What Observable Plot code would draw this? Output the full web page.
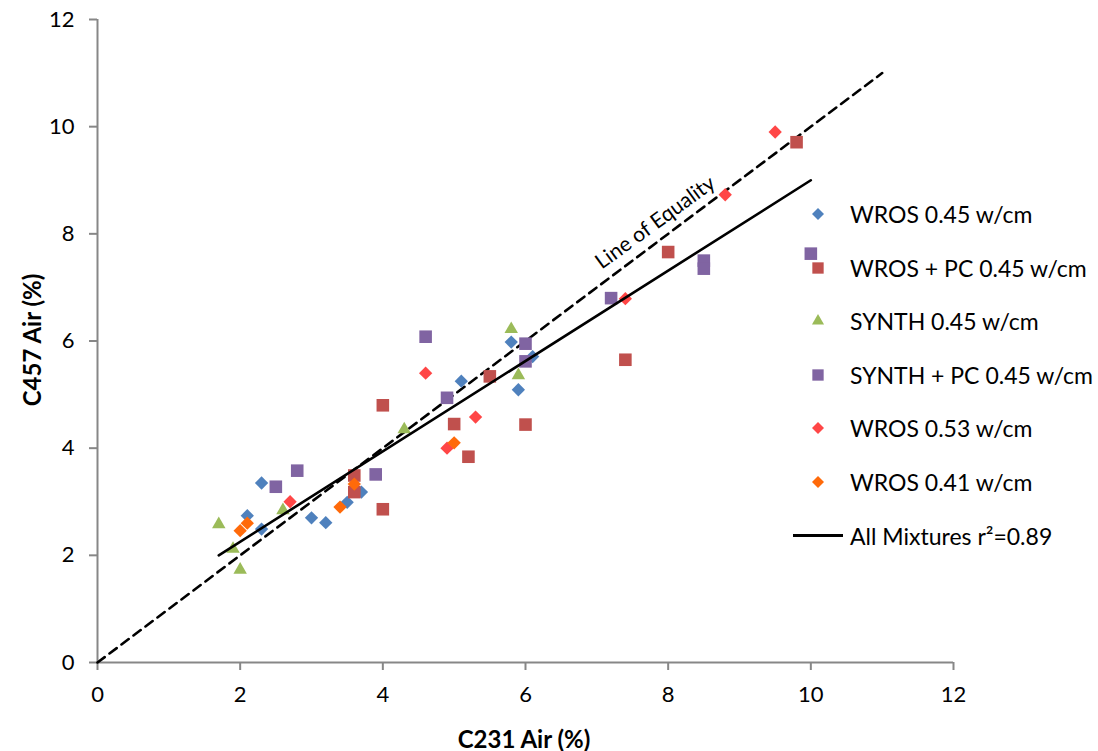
<!DOCTYPE html>
<html>
<head>
<meta charset="utf-8">
<script src="https://cdn.jsdelivr.net/npm/d3@7"></script>
<script src="https://cdn.jsdelivr.net/npm/@observablehq/plot@0.6"></script>
<style>
  html, body { margin: 0; padding: 0; background: #fff; }
  #wrap { position: relative; width: 1098px; height: 751px; font-family: Lato, "Open Sans", sans-serif; }
  .title { position: absolute; font-weight: bold; font-size: 24px; color: #000; white-space: nowrap; }
  .leg { position: absolute; font-size: 23px; color: #000; white-space: nowrap; line-height: 1; }
</style>
</head>
<body>
<div id="wrap"></div>
<script>
// ---- data ----
const xTicks = [0, 2, 4, 6, 8, 10, 12];
const yTicks = [0, 2, 4, 6, 8, 10, 12];

const seriesNames = ["WROS 0.45 w/cm", "WROS + PC 0.45 w/cm", "SYNTH 0.45 w/cm", "SYNTH + PC 0.45 w/cm", "WROS 0.53 w/cm", "WROS 0.41 w/cm"];
const seriesColors = ["#4f81bd", "#c0504d", "#9bbb59", "#8064a2", "#ff4646", "#ff6a0a"];
const seriesSymbols = ["diamond2", "square", "triangle", "square", "diamond2", "diamond2"];

const wros045 = [[2.1, 2.74], [2.3, 2.49], [2.3, 3.35], [3.0, 2.70], [3.2, 2.61], [3.5, 2.99], [3.7, 3.18], [5.1, 5.25], [5.8, 5.98], [6.1, 5.71], [5.9, 5.09]];
const wrosPC045 = [[3.6, 3.49], [3.6, 3.18], [4.0, 2.86], [4.0, 4.80], [5.0, 4.45], [5.2, 3.84], [5.5, 5.34], [6.0, 4.44], [7.4, 5.65], [8.0, 7.66], [9.8, 9.71]];
const synth045 = [[1.7, 2.58], [1.9, 2.12], [2.0, 1.73], [2.6, 2.84], [4.3, 4.35], [5.8, 6.22], [5.9, 5.36]];
const synthPC045 = [[2.5, 3.28], [2.8, 3.58], [3.9, 3.51], [4.6, 6.08], [4.9, 4.94], [6.0, 5.95], [6.0, 5.62], [7.2, 6.80], [8.5, 7.50], [8.5, 7.35], [10.0, 7.63]];
const wros053 = [[2.7, 3.00], [4.6, 5.40], [4.9, 4.00], [5.3, 4.58], [7.4, 6.79], [8.8, 8.73], [9.5, 9.90]];
const wros041 = [[2.0, 2.46], [2.1, 2.60], [3.4, 2.90], [3.6, 3.33], [5.0, 4.10]];

const equalityX = [0, 11];
const equalityY = [0, 11];
const regressionX = [1.7, 10];
const regressionY = [2.0, 9.0];
const regressionName = "All Mixtures r\u00b2=0.89";
const equalityLabel = [{x: 7.82, y: 8.21, text: "Line of Equality"}];

const xTitle = "C231 Air (%)";
const yTitle = "C457 Air (%)";

// ---- build ----
const allSeries = [wros045, wrosPC045, synth045, synthPC045, wros053, wros041];
const symbolR = {diamond2: 6.0, square: 7.1, triangle: 5.0};
const axisGray = "#878787";

const eqData = equalityX.map((x, i) => ({x, y: equalityY[i]}));
const regData = regressionX.map((x, i) => ({x, y: regressionY[i]}));

const dotMarks = allSeries.map((s, i) => Plot.dot(s.map(([x, y]) => ({x, y})), {
  x: "x", y: "y",
  symbol: () => seriesSymbols[i],
  r: symbolR[seriesSymbols[i]],
  fill: seriesColors[i],
  stroke: "none"
}));

const chart = Plot.plot({
  width: 1098,
  height: 751,
  marginLeft: 97,
  marginRight: 145,
  marginTop: 19,
  marginBottom: 89,
  style: {fontFamily: "Lato, 'Open Sans', sans-serif", fontSize: "22px", color: "#000", background: "transparent"},
  x: {domain: [0, 12]},
  y: {domain: [0, 12]},
  symbol: {type: "identity"},
  marks: [
    Plot.axisX({ticks: xTicks, tickSize: 8, tickPadding: 16, fontSize: 22, stroke: axisGray, strokeWidth: 2, fill: "#000", label: null}),
    Plot.axisY({ticks: yTicks, tickSize: 8, tickPadding: 15, fontSize: 22, stroke: axisGray, strokeWidth: 2, fill: "#000", label: null}),
    Plot.ruleY([0], {stroke: axisGray, strokeWidth: 2}),
    Plot.ruleX([0], {stroke: axisGray, strokeWidth: 2}),
    Plot.line(eqData, {x: "x", y: "y", stroke: "#000", strokeWidth: 2.6, strokeDasharray: "9,6"}),
    ...dotMarks,
    Plot.line(regData, {x: "x", y: "y", stroke: "#000", strokeWidth: 2.6}),
    Plot.text(equalityLabel, {x: "x", y: "y", text: "text", rotate: -36, fontSize: 21, fill: "#000"})
  ]
});

const wrap = document.getElementById("wrap");
chart.style.position = "absolute";
chart.style.left = "0";
chart.style.top = "0";
wrap.appendChild(chart);

// axis titles
const xt = document.createElement("div");
xt.className = "title";
xt.textContent = xTitle;
xt.style.left = "524px"; xt.style.top = "738px";
xt.style.transform = "translate(-50%, -50%)";
wrap.appendChild(xt);

const yt = document.createElement("div");
yt.className = "title";
yt.textContent = yTitle;
yt.style.left = "31px"; yt.style.top = "340px";
yt.style.transform = "translate(-50%, -50%) rotate(-90deg)";
wrap.appendChild(yt);

// legend
const legTop = 214, legStep = 53.6, markerX = 818, textX = 850;
const symMap = {diamond2: d3.symbolDiamond2, square: d3.symbolSquare, triangle: d3.symbolTriangle};
seriesNames.forEach((name, i) => {
  const cy = legTop + i * legStep;
  const r = symbolR[seriesSymbols[i]] * 0.9;
  const path = d3.symbol(symMap[seriesSymbols[i]], Math.PI * r * r)();
  const svg = document.createElementNS("http://www.w3.org/2000/svg", "svg");
  svg.setAttribute("width", 24); svg.setAttribute("height", 24);
  svg.style.position = "absolute";
  svg.style.left = (markerX - 12) + "px";
  svg.style.top = (cy - 12) + "px";
  const p = document.createElementNS("http://www.w3.org/2000/svg", "path");
  p.setAttribute("d", path);
  p.setAttribute("transform", "translate(12,12)");
  p.setAttribute("fill", seriesColors[i]);
  svg.appendChild(p);
  wrap.appendChild(svg);
  const t = document.createElement("div");
  t.className = "leg";
  t.textContent = name;
  t.style.left = textX + "px";
  t.style.top = cy + "px";
  t.style.transform = "translateY(-50%)";
  wrap.appendChild(t);
});
{
  const cy = legTop + 6 * legStep;
  const line = document.createElement("div");
  line.style.position = "absolute";
  line.style.left = "793px"; line.style.top = (cy - 1.5) + "px";
  line.style.width = "50px"; line.style.height = "3px";
  line.style.background = "#000";
  wrap.appendChild(line);
  const t = document.createElement("div");
  t.className = "leg";
  t.textContent = regressionName;
  t.style.left = textX + "px";
  t.style.top = cy + "px";
  t.style.transform = "translateY(-50%)";
  wrap.appendChild(t);
}
</script>
</body>
</html>
